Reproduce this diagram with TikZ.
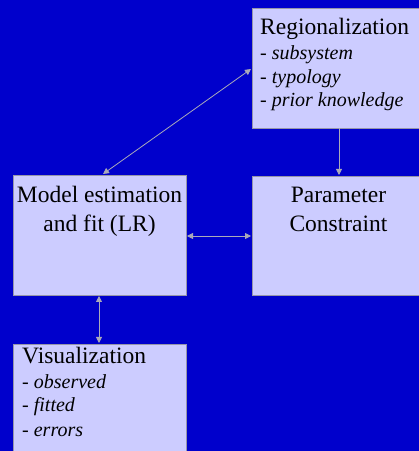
\documentclass[tikz,border=0pt]{standalone}
\usepackage{fontspec}
\setmainfont{Liberation Serif}
\usetikzlibrary{arrows.meta}
\definecolor{bgblue}{RGB}{0,0,204}
\definecolor{boxfill}{RGB}{204,204,255}
\definecolor{boxline}{RGB}{150,150,170}
\definecolor{arrowgray}{RGB}{170,170,185}
\tikzset{
  box/.style={draw=boxline, line width=0.8pt, fill=boxfill},
  ttl/.style={inner sep=0pt, font=\fontsize{23.5}{28}\selectfont},
  itm/.style={inner sep=0pt, anchor=base west, font=\fontsize{20}{24}\selectfont\itshape},
  conn/.style={draw=arrowgray, line width=0.8pt},
  tip/.style={-{Triangle[length=6pt,width=6pt]}},
  tips/.style={{Triangle[length=6pt,width=6pt]}-{Triangle[length=6pt,width=6pt]}}
}
\begin{document}
\begin{tikzpicture}[x=1pt,y=1pt]
\useasboundingbox (0,0) rectangle (419,451);
\clip (0,0) rectangle (419,451);
\fill[bgblue] (0,0) rectangle (419,451);
% boxes
\path[box] (252,323) rectangle (425,443);
\path[box] (13,156) rectangle (186,276);
\path[box] (252,156) rectangle (425,275);
\path[box] (13,107) rectangle (186,-10);
% Regionalization
\node[ttl, anchor=base west] (rtitle) at (260,416) {Regionalization};
\node[itm] (r1) at (260,391) {\upshape-\ \itshape subsystem};
\node[itm] (r2) at (260,367) {\upshape-\ \itshape typology};
\node[itm] (r3) at (260,344) {\upshape-\ \itshape prior knowledge};
% Model estimation
\node[ttl, anchor=base] (m1) at (99.5,248) {Model estimation};
\node[ttl, anchor=base] (m2) at (99.5,219) {and fit (LR)};
% Parameter
\node[ttl, anchor=base] (p1) at (338.5,248) {Parameter};
\node[ttl, anchor=base] (p2) at (338.5,219) {Constraint};
% Visualization
\node[ttl, anchor=base west] (vtitle) at (22,88) {Visualization};
\node[itm] (v1) at (22,63) {\upshape-\ \itshape observed};
\node[itm] (v2) at (22,39) {\upshape-\ \itshape fitted};
\node[itm] (v3) at (22,15) {\upshape-\ \itshape errors};
% connector ends
\coordinate (dA) at (103,277);
\coordinate (dB) at (251,382);
\coordinate (vA) at (339,323);
\coordinate (vB) at (339,276);
\coordinate (hA) at (187,215);
\coordinate (hB) at (251,215);
\coordinate (mA) at (99,155);
\coordinate (mB) at (99,108);
\draw[conn, tips] (dA) -- (dB);
\draw[conn, tip] (vA) -- (vB);
\draw[conn, tips] (hA) -- (hB);
\draw[conn, tips] (mA) -- (mB);
\end{tikzpicture}
\end{document}
